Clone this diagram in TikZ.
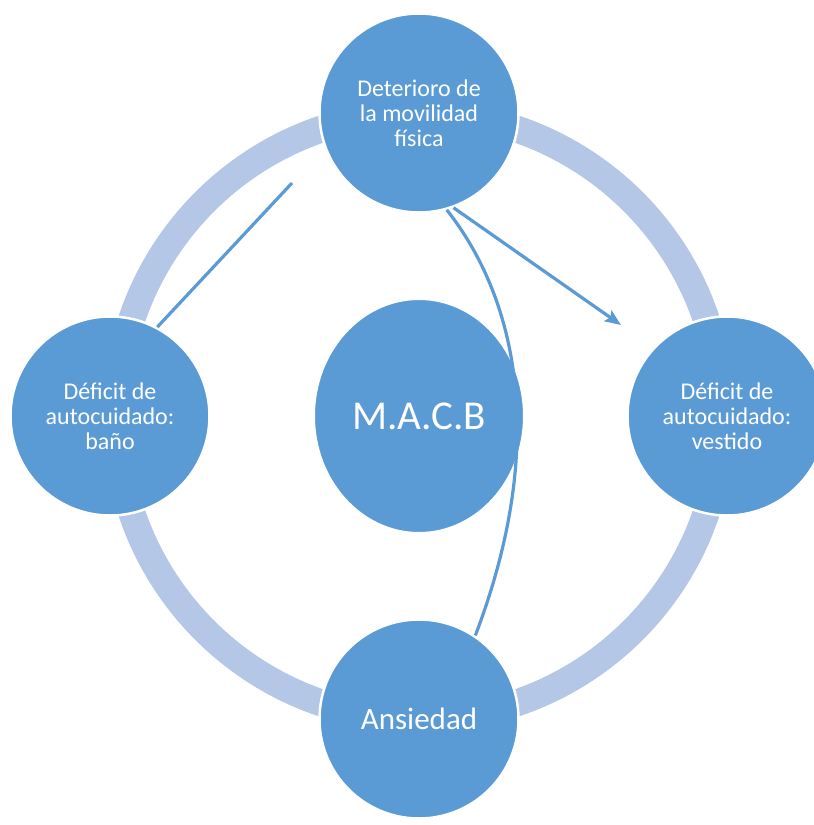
\documentclass[tikz,border=0pt]{standalone}
\usepackage{fontspec}
\setmainfont{Carlito}
\usepackage{tikz}
\usetikzlibrary{arrows.meta,shapes.geometric}
\definecolor{azul}{HTML}{5B9BD5}
\definecolor{aro}{HTML}{B4C7E7}
\tikzset{
	burbuja/.style={circle, fill=azul, draw=white, line width=2.5pt, minimum size=199pt,
		inner sep=0pt, text=white, align=center, font=\fontsize{24}{25}\selectfont},
	enlace/.style={azul, line width=3.2pt}
}

\begin{document}
\begin{tikzpicture}[x=1pt,y=-1pt]
	\useasboundingbox (0,0) rectangle (814,825);
	\clip (0,0) rectangle (814,825);
	% anillo de fondo
	\draw[aro, line width=27pt] (419,416) circle (303);

	\node[burbuja] (mov) at (419,113) {Deterioro de\\la movilidad\\física};
	\node[burbuja] (bano) at (110,416) {Déficit de\\autocuidado:\\baño};
	\node[burbuja] (vest) at (727,416) {Déficit de\\autocuidado:\\vestido};
	\node[burbuja, font=\fontsize{31}{36}\selectfont] (ansi) at (419,719) {Ansiedad};
	\node[ellipse, fill=azul, draw=white, line width=2pt, minimum width=210pt, minimum height=234pt,
		text=white, font=\fontsize{41}{46}\selectfont] (macb) at (419,416) {M.A.C.B};

	\coordinate (libre) at (292,183);
	\coordinate (punta) at (621,325);
	\draw[enlace] (bano.62) -- (libre);
	\draw[enlace, -{Stealth[length=16pt,width=13pt,inset=3pt]}] (mov.-70) -- (punta);
	\draw[enlace] (mov.-74) .. controls (518,300) and (548,445) .. (ansi.56);
\end{tikzpicture}
\end{document}
